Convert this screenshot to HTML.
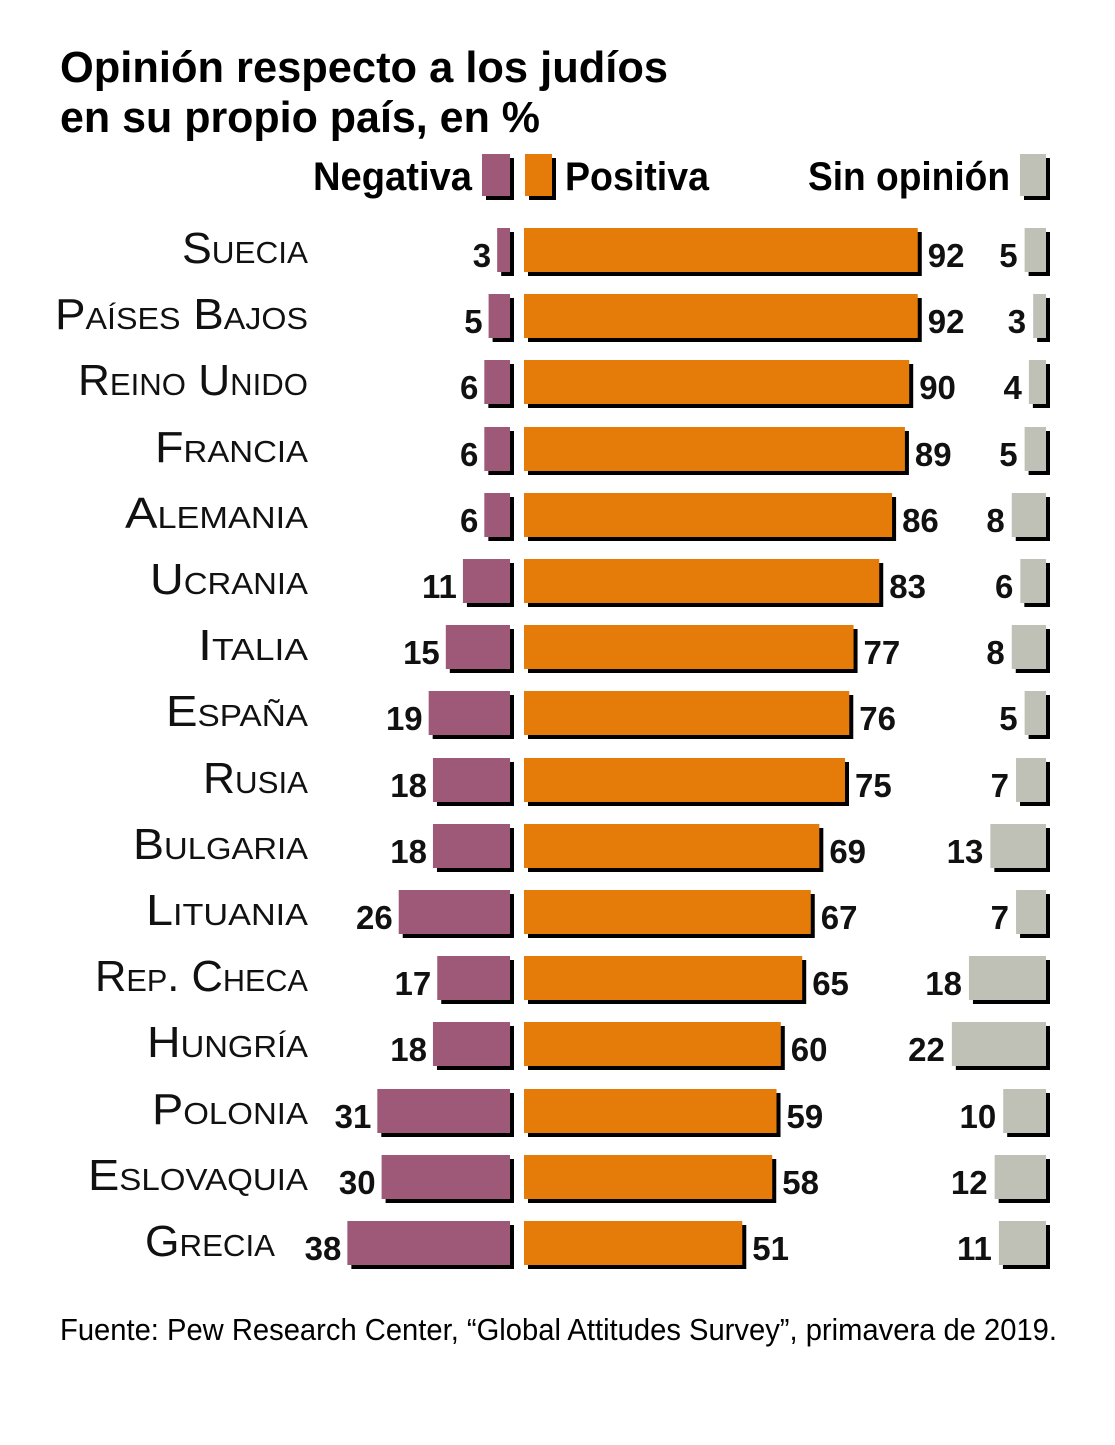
<!DOCTYPE html>
<html><head><meta charset="utf-8"><style>
html,body{margin:0;padding:0;background:#fff;}
svg{display:block;font-family:"Liberation Sans",sans-serif;}
.c{font-size:44px;font-variant:small-caps;text-anchor:end;fill:#111;}
.n{font-size:33px;font-weight:bold;fill:#111;}
.e{text-anchor:end;}
</style></head><body>
<svg width="1115" height="1445" viewBox="0 0 1115 1445">
<text x="60" y="82" font-size="44" font-weight="bold" textLength="608" lengthAdjust="spacingAndGlyphs">Opinión respecto a los judíos</text>
<text x="60" y="132" font-size="44" font-weight="bold" textLength="480" lengthAdjust="spacingAndGlyphs">en su propio país, en %</text>
<text x="313" y="190" font-size="40" font-weight="bold" textLength="159" lengthAdjust="spacingAndGlyphs">Negativa</text>
<text x="565" y="190" font-size="40" font-weight="bold" textLength="144" lengthAdjust="spacingAndGlyphs">Positiva</text>
<text x="808" y="190" font-size="40" font-weight="bold" textLength="202" lengthAdjust="spacingAndGlyphs">Sin opinión</text>
<rect x="486" y="158" width="28" height="42" fill="#000"/><rect x="482" y="154" width="28" height="42" fill="#9e5878"/>
<rect x="529" y="158" width="27" height="42" fill="#000"/><rect x="525" y="154" width="27" height="42" fill="#e57c0a"/>
<rect x="1024" y="158" width="26" height="42" fill="#000"/><rect x="1020" y="154" width="26" height="42" fill="#c0c1b6"/>
<text x="60" y="1340" font-size="31" textLength="997" lengthAdjust="spacingAndGlyphs">Fuente: Pew Research Center, “Global Attitudes Survey”, primavera de 2019.</text>
</svg>
<script>
var d=[["Suecia",3,92,5,126],["Países Bajos",5,92,3,253],["Reino Unido",6,90,4,230],["Francia",6,89,5,153],["Alemania",6,86,8,183],["Ucrania",11,83,6,158],["Italia",15,77,8,110],["España",19,76,5,142],["Rusia",18,75,7,105],["Bulgaria",18,69,13,175],["Lituania",26,67,7,162],["Rep. Checa",17,65,18,213],["Hungría",18,60,22,161],["Polonia",31,59,10,156],["Eslovaquia",30,58,12,220],["Grecia",38,51,11,130]];
var s=document.querySelector("svg"),h="",k=4.28;
function r(x,y,w,c){return '<rect x="'+(x+4)+'" y="'+(y+4)+'" width="'+w+'" height="44" fill="#000"/><rect x="'+x+'" y="'+y+'" width="'+w+'" height="44" fill="'+c+'"/>';}
d.forEach(function(a,i){var y=Math.round(228+i*66.2);
var nw=a[1]*k,nx=510-nw,pw=a[2]*k,gw=a[3]*k,gx=1046-gw;
h+=r(nx,y,nw,"#9e5878")+r(524,y,pw,"#e57c0a")+r(gx,y,gw,"#c0c1b6");
var cx=(i==15)?275:308;
h+='<text class="c" x="'+cx+'" y="'+(y+35)+'" textLength="'+a[4]+'" lengthAdjust="spacingAndGlyphs">'+a[0]+'</text>';
h+='<text class="n e" x="'+(nx-6)+'" y="'+(y+39)+'">'+a[1]+'</text>';
h+='<text class="n" x="'+(524+pw+10)+'" y="'+(y+39)+'">'+a[2]+'</text>';
h+='<text class="n e" x="'+(gx-7)+'" y="'+(y+39)+'">'+a[3]+'</text>';});
s.insertAdjacentHTML("beforeend",h);
</script>
</body></html>
